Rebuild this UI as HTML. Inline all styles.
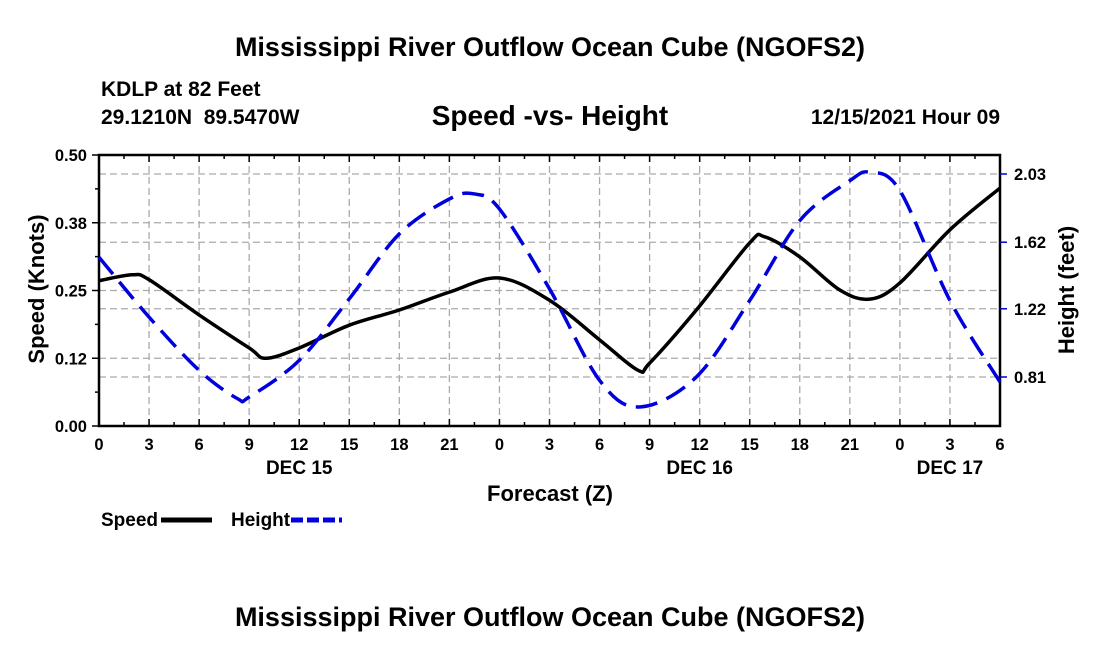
<!DOCTYPE html>
<html><head><meta charset="utf-8"><style>
body{margin:0;background:#fff;}
svg text{font-family:"Liberation Sans",Arial,sans-serif;font-weight:bold;fill:#000;}
</style></head><body>
<svg id="c" width="1100" height="650" xmlns="http://www.w3.org/2000/svg">
<text x="550" y="56" font-size="27" text-anchor="middle">Mississippi River Outflow Ocean Cube (NGOFS2)</text>
<text x="101" y="96" font-size="21">KDLP at 82 Feet</text>
<text x="101" y="124" font-size="21" xml:space="preserve">29.1210N  89.5470W</text>
<text x="550" y="125" font-size="28" text-anchor="middle">Speed -vs- Height</text>
<text x="1000" y="124" font-size="21" text-anchor="end">12/15/2021 Hour 09</text>
<text x="550" y="626" font-size="27" text-anchor="middle">Mississippi River Outflow Ocean Cube (NGOFS2)</text>
<g id="grid"></g><g id="axes"></g><g id="series"></g>
<text transform="translate(44,289) rotate(-90)" font-size="22" text-anchor="middle">Speed (Knots)</text>
<text transform="translate(1074,290) rotate(-90)" font-size="22" text-anchor="middle">Height (feet)</text>
<text x="550" y="501" font-size="22" text-anchor="middle">Forecast (Z)</text>
<text x="101" y="526" font-size="19">Speed</text>
<line x1="161" y1="520" x2="212" y2="520" stroke="#000" stroke-width="5"/>
<text x="231" y="526" font-size="19">Height</text>
<line x1="291" y1="520" x2="342" y2="520" stroke="#0000dd" stroke-width="5" stroke-dasharray="12,4"/>
</svg>
<script>
const hours=[0,2,3,6,9,10,12,15,18,21,24,27,30,32.3,33,35.8,39,39.9,42,44.4,46.2,48,51,54];
const speed=[0.268,0.279,0.27,0.205,0.144,0.125,0.144,0.186,0.214,0.247,0.273,0.232,0.159,0.103,0.116,0.214,0.338,0.349,0.312,0.251,0.234,0.264,0.362,0.439];
const hHours=[0,3,6,8.3,9,12,15,18,21,22.5,24,27,30,32.4,35.8,39,42,45,46.2,48,51,54];
const height=[1.53,1.17,0.85,0.68,0.69,0.91,1.28,1.67,1.88,1.91,1.82,1.34,0.79,0.63,0.81,1.27,1.75,1.99,2.04,1.93,1.27,0.78];
const speedTicks=["0.00","0.12","0.25","0.38","0.50"];
const speedTickVals=[0,0.125,0.25,0.375,0.5];
const heightTicks=["0.81","1.22","1.62","2.03"];
const heightTickVals=[0.81,1.22,1.62,2.03];
const xLabels=["0","3","6","9","12","15","18","21","0","3","6","9","12","15","18","21","0","3","6"];
const dayLabels=["DEC 15","DEC 16","DEC 17"];
const dayHours=[12,36,51];
const X0=99,X1=1000,Y0=426,Y1=155;
const xs=h=>X0+h/54*(X1-X0);
const ys=s=>Y0-s/0.5*(Y0-Y1);
const yh=h=>377-(h-0.81)*(377-174)/(2.03-0.81);
const NS="http://www.w3.org/2000/svg";
function mk(p,t,a){const e=document.createElementNS(NS,t);for(const k in a)e.setAttribute(k,a[k]);p.appendChild(e);return e;}
const grid=document.getElementById('grid'),axes=document.getElementById('axes'),ser=document.getElementById('series');
const gs={stroke:"#aaa","stroke-width":1.3,"stroke-dasharray":"7,4"};
for(let i=1;i<xLabels.length-1;i++){const l=mk(grid,'line',Object.assign({x1:xs(i*3),x2:xs(i*3),y1:Y1,y2:Y0},gs));

}
speedTickVals.slice(1,4).forEach(v=>{const l=mk(grid,'line',Object.assign({x1:X0,x2:X1,y1:ys(v),y2:ys(v)},gs));

});
heightTickVals.forEach(v=>{const l=mk(grid,'line',Object.assign({x1:X0,x2:X1,y1:yh(v),y2:yh(v)},gs));

});
const frame=mk(axes,'rect',{x:X0,y:Y1,width:X1-X0,height:Y0-Y1,fill:"none",stroke:"#000","stroke-width":2.5});


for(let h=0;h<=54;h+=1.5){const len=(h%3===0)?7:4;mk(axes,'line',{x1:xs(h),x2:xs(h),y1:Y0,y2:Y0-len,stroke:"#000","stroke-width":1.5});mk(axes,'line',{x1:xs(h),x2:xs(h),y1:Y1,y2:Y1+len,stroke:"#000","stroke-width":1.5});}
speedTickVals.forEach((v,i)=>{mk(axes,'line',{x1:X0-7,x2:X0,y1:ys(v),y2:ys(v),stroke:"#000","stroke-width":1.5});
const t=mk(axes,'text',{x:X0-12,y:ys(v)+6,"font-size":16.5,"text-anchor":"end"});t.textContent=speedTicks[i];

});
for(let v=0.0625;v<0.5;v+=0.125)mk(axes,'line',{x1:X0-4,x2:X0,y1:ys(v),y2:ys(v),stroke:"#000","stroke-width":1.5});
heightTickVals.forEach((v,i)=>{mk(axes,'line',{x1:X1,x2:X1+7,y1:yh(v),y2:yh(v),stroke:"#0000cc","stroke-width":1.5});
const t=mk(axes,'text',{x:X1+14,y:yh(v)+6,"font-size":16.5});t.textContent=heightTicks[i];

});
xLabels.forEach((s,i)=>{const t=mk(axes,'text',{x:xs(i*3),y:Y0+24,"font-size":16.5,"text-anchor":"middle"});t.textContent=s;

});
dayLabels.forEach((s,i)=>{const t=mk(axes,'text',{x:xs(dayHours[i]),y:Y0+48,"font-size":19,"text-anchor":"middle"});t.textContent=s;

});
function path(px,py){let d="M"+px[0]+","+py[0];for(let i=0;i<px.length-1;i++){const p0=i?i-1:i,p3=i+2<px.length?i+2:i+1;
const c1x=px[i]+(px[i+1]-px[p0])/6,c1y=py[i]+(py[i+1]-py[p0])/6,c2x=px[i+1]-(px[p3]-px[i])/6,c2y=py[i+1]-(py[p3]-py[i])/6;
d+=` C${c1x},${c1y} ${c2x},${c2y} ${px[i+1]},${py[i+1]}`;}return d;}
const sp=mk(ser,'path',{d:path(hours.map(xs),speed.map(ys)),fill:"none",stroke:"#000","stroke-width":3.5});


const hp=mk(ser,'path',{d:path(hHours.map(xs),height.map(yh)),fill:"none",stroke:"#0000dd","stroke-width":3.5,"stroke-dasharray":"22,10"});


</script>
</body></html>
